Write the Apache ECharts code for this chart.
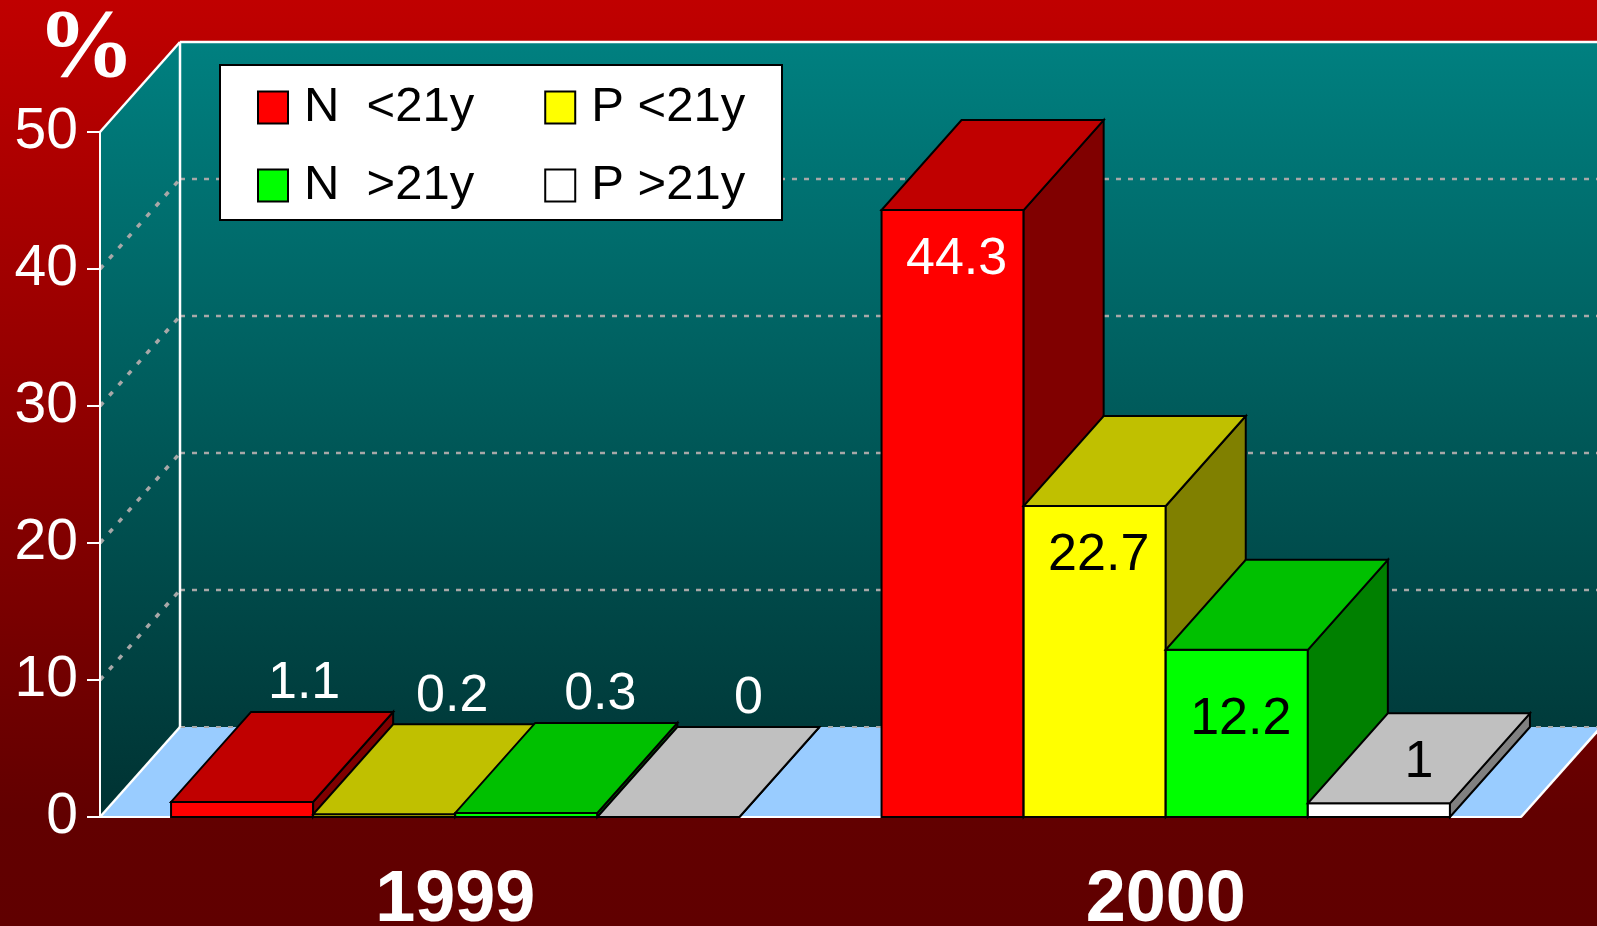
<!DOCTYPE html>
<html>
<head>
<meta charset="utf-8">
<title>3D bars</title>
<style>
  html, body { margin: 0; padding: 0; background: #600000; }
  #main { width: 1597px; height: 926px; }
</style>
<script src="https://cdn.jsdelivr.net/npm/echarts@6/dist/echarts.min.js"></script>
</head>
<body>
<div id="main"></div>
<script>
// data
var years = ['1999', '2000'];
var groupNames = ['N  <21y', 'P <21y', 'N  >21y', 'P >21y'];
var nYoung = [1.1, 44.3];
var pYoung = [0.2, 22.7];
var nOld = [0.3, 12.2];
var pOld = [0, 1];
var yTicks = [0, 10, 20, 30, 40, 50];

// looks
var frontColors = ['#ff0000', '#ffff00', '#00ff00', '#ffffff'];
var topColors = ['#c00000', '#c0c000', '#00c000', '#c0c0c0'];
var sideColors = ['#800000', '#808000', '#008000', '#808080'];
var textColors = ['#ffffff', '#000000', '#000000', '#000000'];
var labelMode = ['above', 'face'];   // where small values get their label, per year
var DX = 80, DY = -90;                // depth of the 3d box
var FONT = 'Arial, "Liberation Sans", sans-serif';

var myChart = echarts.init(document.getElementById('main'));

function poly(points, fill, stroke, width, dash) {
    return {
        type: 'polygon',
        shape: { points: points },
        style: { fill: fill, stroke: stroke || null, lineWidth: width || 0, lineDash: dash || null }
    };
}
function line(x1, y1, x2, y2, color, width, dash) {
    return {
        type: 'line',
        shape: { x1: x1, y1: y1, x2: x2, y2: y2 },
        style: { stroke: color, lineWidth: width, lineDash: dash || null }
    };
}

// walls, floor and grid lines of the 3d box
function renderFrame(params, api) {
    if (params.dataIndex !== 0) return;
    var band = api.size([1, 0])[0];
    var x0 = api.coord([0, 0])[0] - band / 2;
    var x1 = api.coord([1, 0])[0] + band / 2;
    var y0 = api.coord([0, 0])[1];
    var yTop = api.coord([0, yTicks[yTicks.length - 1]])[1];
    var teal = new echarts.graphic.LinearGradient(0, yTop + DY, 0, y0, [
        { offset: 0, color: '#008080' },
        { offset: 1, color: '#003232' }
    ], true);
    var grey = '#a8a8a8';
    var kids = [];
    kids.push(poly([[x0 + DX, yTop + DY], [x1 + DX + 20, yTop + DY], [x1 + DX + 20, y0 + DY], [x0 + DX, y0 + DY]], teal));
    kids.push(poly([[x0, yTop], [x0 + DX, yTop + DY], [x0 + DX, y0 + DY], [x0, y0]], teal));
    yTicks.forEach(function (t) {
        if (t === 0 || t === yTicks[yTicks.length - 1]) return;
        var y = api.coord([0, t])[1];
        kids.push(line(x0 + DX, y + DY, x1 + DX + 20, y + DY, grey, 2.5, [5, 7]));
        kids.push(line(x0, y, x0 + DX, y + DY, grey, 3.5, [5, 9]));
    });
    kids.push(poly([[x0, y0], [x1, y0], [x1 + DX, y0 + DY], [x0 + DX, y0 + DY]], '#99ccff'));
    kids.push(line(x0 + DX, y0 + DY, x1 + DX, y0 + DY, grey, 2, [5, 7]));
    // white edges
    kids.push(line(x0, yTop, x0 + DX, yTop + DY, '#fff', 2.5));
    kids.push(line(x0 + DX, yTop + DY, x1 + DX + 20, yTop + DY, '#fff', 2.5));
    kids.push(line(x0 + DX, yTop + DY, x0 + DX, y0 + DY, '#fff', 2.5));
    kids.push(line(x0, y0, x0 + DX, y0 + DY, '#fff', 2.5));
    kids.push(line(x1, y0, x1 + DX, y0 + DY, '#fff', 2.5));
    return { type: 'group', children: kids };
}

function makeBar(s) {
    return function (params, api) {
        var i = api.value(0);
        var v = api.value(1);
        var band = api.size([1, 0])[0];
        var w = band * 0.2;
        var c = api.coord([i, v]);
        var base = api.coord([i, 0]);
        var xl = c[0] - band * 0.4 + s * w;
        var xr = xl + w;
        var yt = c[1], yb = base[1];
        var kids = [
            poly([[xl, yb], [xr, yb], [xr, yt], [xl, yt]], frontColors[s], '#000', 2),
            poly([[xr, yb], [xr + DX, yb + DY], [xr + DX, yt + DY], [xr, yt]], sideColors[s], '#000', 2),
            poly([[xl, yt], [xr, yt], [xr + DX, yt + DY], [xl + DX, yt + DY]], topColors[s], '#000', 2)
        ];
        var cx = (xl + xr) / 2;
        var lx, ly, col;
        if (v >= 5) {
            lx = cx + 4; ly = yt + 50 + Math.max(0, 20 - v) * 2.5; col = textColors[s];
        } else if (labelMode[i] === 'above') {
            lx = cx + 62 + s * 6; ly = yt + DY - 28; col = '#ffffff';
        } else {
            lx = cx + DX / 2; ly = yt + DY / 2 + 4; col = textColors[s];
        }
        kids.push({
            type: 'text',
            style: {
                text: String(v), x: lx, y: ly, fill: col,
                font: '52px ' + FONT, align: 'center', verticalAlign: 'middle'
            }
        });
        return { type: 'group', children: kids };
    };
}

var groups = [nYoung, pYoung, nOld, pOld];
var series = [{
    type: 'custom',
    name: 'frame',
    z: -1,
    silent: true,
    renderItem: renderFrame,
    data: [[0, 0]]
}];
groups.forEach(function (arr, s) {
    series.push({
        type: 'custom',
        name: groupNames[s],
        itemStyle: { color: frontColors[s] },
        renderItem: makeBar(s),
        encode: { x: 0, y: 1 },
        data: years.map(function (y, i) { return [i, arr[i]]; })
    });
});

function legendRow(names, top) {
    return {
        data: names,
        left: 257,
        top: top,
        padding: 0,
        itemGap: 70,
        itemWidth: 30,
        itemHeight: 32,
        icon: 'rect',
        selectedMode: false,
        itemStyle: { borderColor: '#000', borderWidth: 2 },
        textStyle: { color: '#000', fontSize: 49, fontFamily: FONT, padding: [0, 0, 0, 11] }
    };
}

var option = {
    animation: false,
    backgroundColor: new echarts.graphic.LinearGradient(0, 0, 0, 1, [
        { offset: 0, color: '#c00000' },
        { offset: 0.88, color: '#620000' },
        { offset: 1, color: '#600000' }
    ]),
    grid: { left: 100, right: 76, top: 132, bottom: 109, outerBoundsMode: 'none' },
    graphic: [{
        type: 'rect',
        z: 3,
        shape: { x: 220, y: 65, width: 562, height: 155 },
        style: { fill: '#fff', stroke: '#000', lineWidth: 2 }
    }],
    legend: [
        legendRow([groupNames[0], groupNames[1]], 83),
        legendRow([groupNames[2], groupNames[3]], 161)
    ],
    xAxis: {
        type: 'category',
        data: years,
        axisLine: { lineStyle: { color: '#fff', width: 2 } },
        axisTick: { length: 14, lineStyle: { color: '#fff', width: 2 } },
        axisLabel: { color: '#fff', fontSize: 72, fontWeight: 'bold', fontFamily: FONT, margin: 48 }
    },
    yAxis: {
        type: 'value',
        min: 0,
        max: 50,
        interval: 10,
        name: '%',
        nameLocation: 'end',
        nameGap: 32,
        nameTextStyle: {
            color: '#fff', fontSize: 98, fontWeight: 'bold',
            fontFamily: '"Liberation Serif", "Times New Roman", serif',
            align: 'center', padding: [0, 28, 0, 0]
        },
        axisLine: { show: true, lineStyle: { color: '#fff', width: 2 } },
        axisTick: { show: true, length: 13, lineStyle: { color: '#fff', width: 2 } },
        axisLabel: { color: '#fff', fontSize: 57, fontFamily: FONT, margin: 22 },
        splitLine: { show: false }
    },
    series: series
};

myChart.setOption(option);
</script>
</body>
</html>
